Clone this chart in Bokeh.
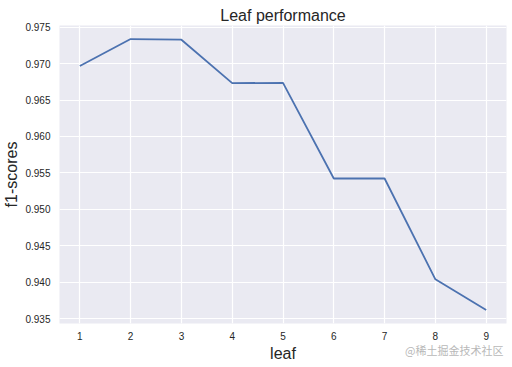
from bokeh.plotting import figure
from bokeh.models import FixedTicker, NumeralTickFormatter, Range1d, Div
from bokeh.layouts import column
from bokeh.embed import file_html
from bokeh.resources import INLINE

leaf = [1, 2, 3, 4, 5, 6, 7, 8, 9]
f1_scores = [0.96967, 0.97336, 0.97327, 0.96731, 0.96735, 0.95423, 0.95423, 0.94040, 0.93620]
x_ticks = [1, 2, 3, 4, 5, 6, 7, 8, 9]
y_ticks = [0.935, 0.940, 0.945, 0.950, 0.955, 0.960, 0.965, 0.970, 0.975]

FONT = "Liberation Sans"
Y0, Y1 = 0.93434, 0.97522
FH = 298

p = figure(
    frame_width=447, frame_height=FH,
    x_range=Range1d(0.6, 9.4), y_range=Range1d(Y0, Y1),
    output_backend="svg", toolbar_location=None,
    min_border_left=45, min_border_top=25, min_border_bottom=36, min_border_right=7,
    background_fill_color="#EAEAF2", border_fill_color="white",
    title="Leaf performance",
)
p.outline_line_color = None
p.title.align = "center"
p.title.text_font = FONT
p.title.text_font_size = "16px"
p.title.text_font_style = "normal"
p.title.text_color = "#262626"
p.title.offset = 0
p.title.standoff = 3

p.line(leaf, f1_scores, line_color="#4C72B0", line_width=1.8)

for ax in (p.xaxis, p.yaxis):
    ax.axis_line_color = None
    ax.major_tick_line_color = None
    ax.minor_tick_line_color = None
    ax.major_label_text_font = FONT
    ax.major_label_text_font_size = "10px"
    ax.major_label_text_color = "#262626"
    ax.axis_label_text_font = FONT
    ax.axis_label_text_font_size = "16px"
    ax.axis_label_text_font_style = "normal"
    ax.axis_label_text_color = "#262626"

p.xaxis.major_label_standoff = 2
p.yaxis.major_label_standoff = 3
p.xaxis.ticker = FixedTicker(ticks=x_ticks)
p.yaxis.ticker = FixedTicker(ticks=y_ticks)
p.yaxis.formatter = NumeralTickFormatter(format="0.000")
p.xaxis.axis_label = "leaf"
p.yaxis.axis_label = "f1-scores"
p.xaxis.axis_label_standoff = 2
p.yaxis.axis_label_standoff = 2

p.xgrid.grid_line_color = "white"
p.ygrid.grid_line_color = "white"
p.xgrid.grid_line_width = 1.2
p.ygrid.grid_line_width = 1.2
p.xgrid.ticker = FixedTicker(ticks=x_ticks)
p.ygrid.ticker = FixedTicker(ticks=y_ticks)

wm = Div(text="@稀土掘金技术社区", margin=(-22, 0, 0, 405),
         styles={"font-family": "Noto Sans CJK SC", "font-size": "11px",
                 "color": "#B8B8B8", "line-height": "16px", "white-space": "nowrap"})

layout = column(p, wm, spacing=0)

open("out.html", "w").write(file_html(layout, INLINE))
